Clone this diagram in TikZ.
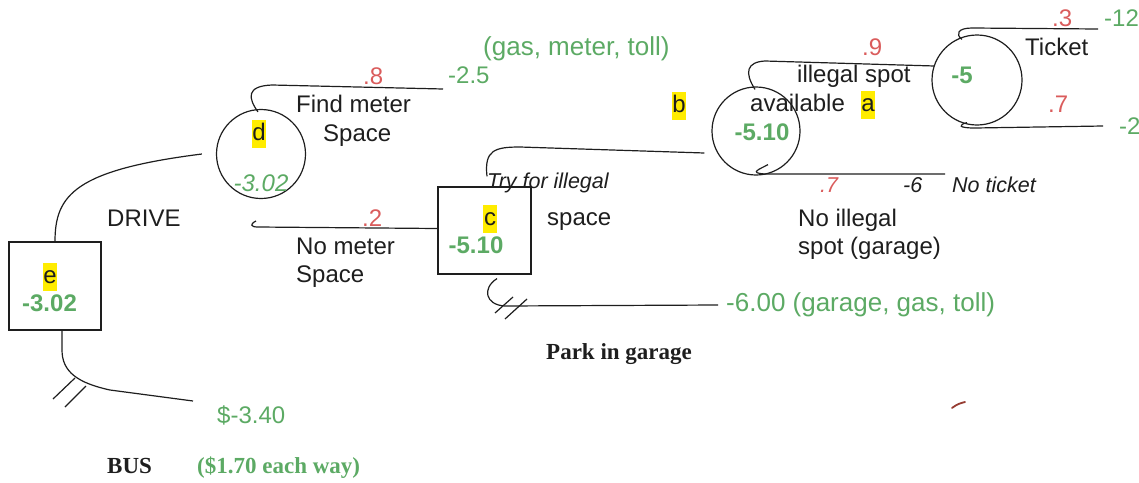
\documentclass[tikz,border=0pt]{standalone}
\usepackage{fontspec}
\setmainfont{Liberation Sans}
\newfontfamily\tnr{Liberation Serif}
\definecolor{grn}{RGB}{92,170,100}
\definecolor{rd}{RGB}{218,92,92}
\definecolor{hl}{RGB}{255,236,0}
\definecolor{ink}{RGB}{30,30,30}
\definecolor{stray}{RGB}{150,60,50}
\begin{document}
\begin{tikzpicture}[x=1pt,y=-1pt,
  every node/.style={inner sep=0pt, font=\fontsize{24}{28}\selectfont, text=ink},
  txt/.style={anchor=base west},
  gtxt/.style={anchor=base west, text=grn},
  gbig/.style={anchor=base west, text=grn, font=\fontsize{26}{30}\selectfont},
  rtxt/.style={anchor=base west, text=rd},
  itxt/.style={anchor=base west, font=\fontsize{21.5}{25}\selectfont\itshape},
  btxt/.style={anchor=base west, font=\fontsize{23}{27}\selectfont\tnr\bfseries},
  hlbox/.style={anchor=base, fill=hl, inner xsep=0.8pt, inner ysep=0pt},
  valb/.style={anchor=base, text=grn, font=\fontsize{24}{28}\selectfont\bfseries},
  conn/.style={draw=ink, line width=1.2pt},
  chance/.style={circle, draw=ink, line width=1.2pt},
  decision/.style={rectangle, draw=ink, line width=1.2pt}]
\useasboundingbox (0,0) rectangle (1139,482);

% decision and chance nodes
\node[decision, minimum width=92pt, minimum height=88pt] (e) at (55,286) {};
\node[chance, minimum size=89pt] (d) at (261,154) {};
\node[decision, minimum width=93pt, minimum height=87pt] (c) at (484.5,230.5) {};
\node[chance, minimum size=88pt] (b) at (756,131) {};
\node[chance, minimum size=90pt] (t) at (977,80) {};

% free ends of branches
\coordinate (dend) at (443,89);
\coordinate (nm) at (256,221);
\coordinate (ni) at (945,174);
\coordinate (tk) at (1098,29);
\coordinate (t7) at (1103,126);
\coordinate (gg) at (718,305);
\coordinate (bs) at (193,401);

% connectors
\draw[conn] (e.north) .. controls (55,195) and (75,170) .. ([xshift=-14pt]d.west);
\draw[conn] ([xshift=-3pt,yshift=-3pt]d.north) .. controls (248,98) and (246,86) .. (272,85) -- (dend);
\draw[conn] ([yshift=2pt]c.west) -- (258,227) .. controls (250,227) and (250,224) .. (nm);
\draw[conn] ([xshift=2.5pt,yshift=10pt]c.north) .. controls (484,150) and (495,147) .. (520,147) -- ([xshift=-7pt,yshift=-22pt]b.west);
\draw[conn] ([xshift=-1pt,yshift=-3pt]b.north) .. controls (744,72) and (747,62) .. (765,61) -- ([xshift=3pt,yshift=14pt]t.west);
\draw[conn] ([xshift=12pt,yshift=11pt]b.south) .. controls (760,169) and (748,173) .. (765,174) -- (ni);
\draw[conn] ([xshift=-15pt,yshift=-5pt]t.north) .. controls (955,34) and (958,28) .. (972,28) -- (tk);
\draw[conn] ([xshift=-10pt,yshift=3pt]t.south) .. controls (958,125) and (958,128) .. (975,128) -- (t7);
\draw[conn] ([xshift=12.5pt,yshift=-4pt]c.south) .. controls (482,288) and (485,305) .. (505,306) -- (gg);
\draw[conn] (495,313) -- (513,297);
\draw[conn] (505,319) -- (527,299);
\draw[conn] ([xshift=7pt]e.south) -- (62,350) .. controls (62,372) and (78,383) .. (110,390) -- (bs);
\draw[conn] (53,399) -- (75,378);
\draw[conn] (65,407) -- (86,386);
\draw[stray, line width=1.8pt, line cap=round] (952,408) .. controls (957,404) and (961,403) .. (965,402);

% node letters and values
\node[hlbox] (le) at (50,283) {\strut e};
\node[valb] (ve) at (49.5,311) {-3.02};
\node[hlbox] (ld) at (259,140) {\strut d};
\node[anchor=base, text=grn, font=\fontsize{24}{28}\selectfont\itshape] (vd) at (261,191) {-3.02};
\node[hlbox] (lc) at (490,225) {\strut c};
\node[valb] (vc) at (476,253) {-5.10};
\node[hlbox] (lb) at (679,112) {\strut b};
\node[valb] (vb) at (762,140) {-5.10};
\node[hlbox] (la) at (868,111) {\strut a};
\node[valb] (vt) at (962,83) {-5};

% branch labels
\node[gbig] (g1) at (483,55) {(gas, meter, toll)};
\node[gtxt] (g2) at (448,83) {-2.5};
\node[rtxt] (p8) at (363,84) {.8};
\node[txt] (fm) at (296,112) {Find meter};
\node[txt] (fs) at (323,141) {Space};
\node[txt] (dr) at (107,226) {DRIVE};
\node[rtxt] (p2) at (362,226) {.2};
\node[txt] (nm1) at (296,254) {No meter};
\node[txt] (nm2) at (296,282) {Space};
\node[itxt] (ti) at (487,188) {Try for illegal};
\node[txt] (sp) at (547,225) {space};
\node[txt] (av) at (750,111) {available};
\node[txt] (il) at (797,82) {illegal spot};
\node[rtxt] (p9) at (862,55) {.9};
\node[txt] (tkt) at (1025,55) {Ticket};
\node[rtxt] (p3) at (1052,26) {.3};
\node[gtxt] (g12) at (1104,26) {-12};
\node[rtxt] (p7) at (1048,112) {.7};
\node[gtxt] (gm2) at (1119,134) {-2};
\node[anchor=base west, text=rd, font=\fontsize{21.5}{25}\selectfont\itshape] (p1) at (820,192) {.7};
\node[itxt] (m6) at (903,192) {-6};
\node[itxt] (nt) at (952,192) {No ticket};
\node[txt] (ni1) at (798,226) {No illegal};
\node[txt] (ni2) at (798,254) {spot (garage)};
\node[gbig] (g6) at (726,311) {-6.00 (garage, gas, toll)};
\node[btxt] (pg) at (546,359) {Park in garage};
\node[gtxt] (g34) at (217,423) {\$-3.40};
\node[btxt] (bus) at (107,473) {BUS};
\node[btxt, text=grn] (bw) at (197,473) {(\$1.70 each way)};
\end{tikzpicture}
\end{document}
